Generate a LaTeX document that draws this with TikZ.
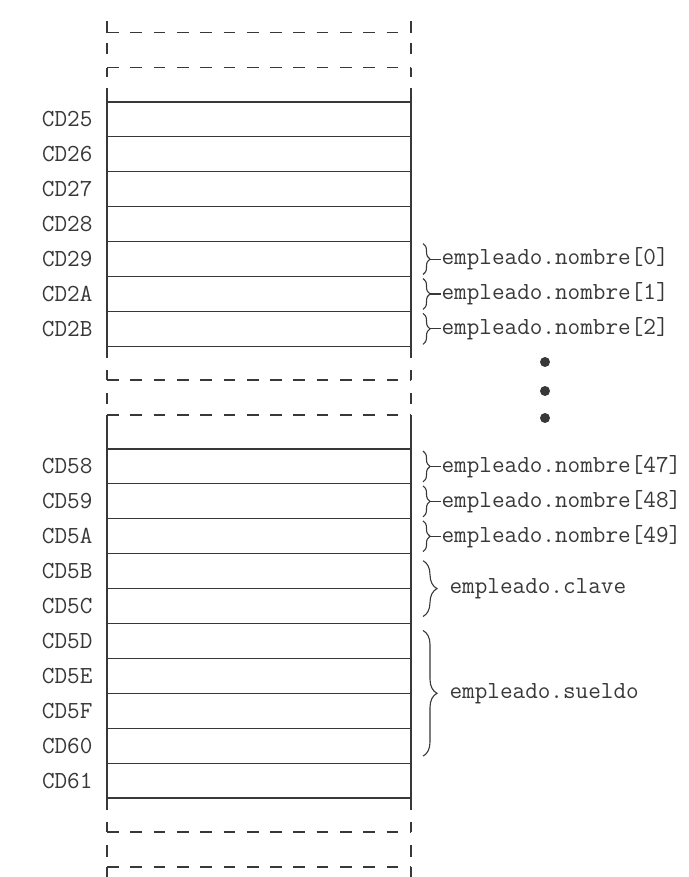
\documentclass[tikz,border=0pt]{standalone}
\usepackage{fontspec}
\usepackage{tikz}
\usetikzlibrary{positioning,decorations.pathreplacing}

\tikzset{
  cell/.style={draw, minimum width=304pt, minimum height=34.9pt, inner sep=0pt, outer sep=0pt},
  addr/.style={inner sep=0pt, font=\ttfamily\fontsize{24.5}{24.5}\selectfont},
  field/.style={addr},
  nbrace/.style={decorate, decoration={brace, amplitude=7pt, raise=12pt}},
  bbrace/.style={decorate, decoration={brace, amplitude=14pt, raise=12pt}},
  brk/.style={dash pattern=on 11.7pt off 11.6pt},
  dot/.style={circle, fill, inner sep=0pt, minimum size=10pt},
}

\begin{document}
\begin{tikzpicture}[x=1pt, y=-1pt, line width=1.1pt, color=black!78]
  \useasboundingbox (0,0) rectangle (688,877);

  % memoria, primer bloque
  \node[cell] (c25) at (259,119.45) {}; \node[addr, left=14pt of c25] (a25) {CD25};
  \node[cell, below=0pt of c25] (c26) {}; \node[addr, left=14pt of c26] (a26) {CD26};
  \node[cell, below=0pt of c26] (c27) {}; \node[addr, left=14pt of c27] (a27) {CD27};
  \node[cell, below=0pt of c27] (c28) {}; \node[addr, left=14pt of c28] (a28) {CD28};
  \node[cell, below=0pt of c28] (c29) {}; \node[addr, left=14pt of c29] (a29) {CD29};
  \node[cell, below=0pt of c29] (c2A) {}; \node[addr, left=14pt of c2A] (a2A) {CD2A};
  \node[cell, below=0pt of c2A] (c2B) {}; \node[addr, left=14pt of c2B] (a2B) {CD2B};

  % memoria, segundo bloque
  \node[cell] (c58) at (259,466.45) {}; \node[addr, left=14pt of c58] (a58) {CD58};
  \node[cell, below=0pt of c58] (c59) {}; \node[addr, left=14pt of c59] (a59) {CD59};
  \node[cell, below=0pt of c59] (c5A) {}; \node[addr, left=14pt of c5A] (a5A) {CD5A};
  \node[cell, below=0pt of c5A] (c5B) {}; \node[addr, left=14pt of c5B] (a5B) {CD5B};
  \node[cell, below=0pt of c5B] (c5C) {}; \node[addr, left=14pt of c5C] (a5C) {CD5C};
  \node[cell, below=0pt of c5C] (c5D) {}; \node[addr, left=14pt of c5D] (a5D) {CD5D};
  \node[cell, below=0pt of c5D] (c5E) {}; \node[addr, left=14pt of c5E] (a5E) {CD5E};
  \node[cell, below=0pt of c5E] (c5F) {}; \node[addr, left=14pt of c5F] (a5F) {CD5F};
  \node[cell, below=0pt of c5F] (c60) {}; \node[addr, left=14pt of c60] (a60) {CD60};
  \node[cell, below=0pt of c60] (c61) {}; \node[addr, left=14pt of c61] (a61) {CD61};

  % cortes
  \draw (107,21) -- (107,32.7) (411,32.7) -- (411,21);
  \draw[brk] (107,32.7) -- (411,32.7);
  \draw (107,43) -- (107,54) (411,43) -- (411,54);
  \draw[brk] (107,67.7) -- (411,67.7);
  \draw (107,77) -- (107,67.7) (411,67.7) -- (411,77);
  \draw (107,88) -- (c25.north west) (411,88) -- (c25.north east);

  \draw (c2B.south west) -- (107,358) (c2B.south east) -- (411,358);
  \draw (107,370) -- (107,380) (411,380) -- (411,370);
  \draw[brk] (107,380) -- (411,380);
  \draw (107,393) -- (107,404) (411,393) -- (411,404);
  \draw[brk] (107,415) -- (411,415);
  \draw (c58.north west) -- (107,415) (411,415) -- (c58.north east);

  \draw (c61.south west) -- (107,810) (c61.south east) -- (411,810);
  \draw (107,822) -- (107,832) (411,832) -- (411,822);
  \draw[brk] (107,832) -- (411,832);
  \draw (107,845) -- (107,857) (411,845) -- (411,857);
  \draw[brk] (107,867) -- (411,867);
  \draw (107,877) -- (107,867) (411,867) -- (411,877);

  % campos
  \draw[nbrace] ([yshift=-2pt]c29.north east) -- ([yshift=2pt]c29.south east);
  \node[field, right=30pt of c29] (n0) {empleado.nombre[0]};
  \draw ([xshift=19pt]c29.east) -- (n0.west);
  \draw[nbrace] ([yshift=-2pt]c2A.north east) -- ([yshift=2pt]c2A.south east);
  \node[field, right=30pt of c2A] (n1) {empleado.nombre[1]};
  \draw ([xshift=19pt]c2A.east) -- (n1.west);
  \draw[nbrace] ([yshift=-2pt]c2B.north east) -- ([yshift=2pt]c2B.south east);
  \node[field, right=30pt of c2B] (n2) {empleado.nombre[2]};
  \draw ([xshift=19pt]c2B.east) -- (n2.west);

  \node[dot] (d1) at (545,362) {};
  \node[dot] (d2) at (545,391) {};
  \node[dot] (d3) at (545,418) {};

  \draw[nbrace] ([yshift=-2pt]c58.north east) -- ([yshift=2pt]c58.south east);
  \node[field, right=30pt of c58] (n47) {empleado.nombre[47]};
  \draw ([xshift=19pt]c58.east) -- (n47.west);
  \draw[nbrace] ([yshift=-2pt]c59.north east) -- ([yshift=2pt]c59.south east);
  \node[field, right=30pt of c59] (n48) {empleado.nombre[48]};
  \draw ([xshift=19pt]c59.east) -- (n48.west);
  \draw[nbrace] ([yshift=-2pt]c5A.north east) -- ([yshift=2pt]c5A.south east);
  \node[field, right=30pt of c5A] (n49) {empleado.nombre[49]};
  \draw ([xshift=19pt]c5A.east) -- (n49.west);

  \draw[bbrace] ([yshift=-7pt]c5B.north east) -- ([yshift=7pt]c5C.south east);
  \node[field, anchor=west] (nk) at ([xshift=38pt]c5B.south east) {empleado.clave};
  \draw[bbrace] ([yshift=-7pt]c5D.north east) -- ([yshift=7pt]c60.south east);
  \node[field, anchor=west] (ns) at ([xshift=38pt]c5E.south east) {empleado.sueldo};
\end{tikzpicture}
\end{document}
